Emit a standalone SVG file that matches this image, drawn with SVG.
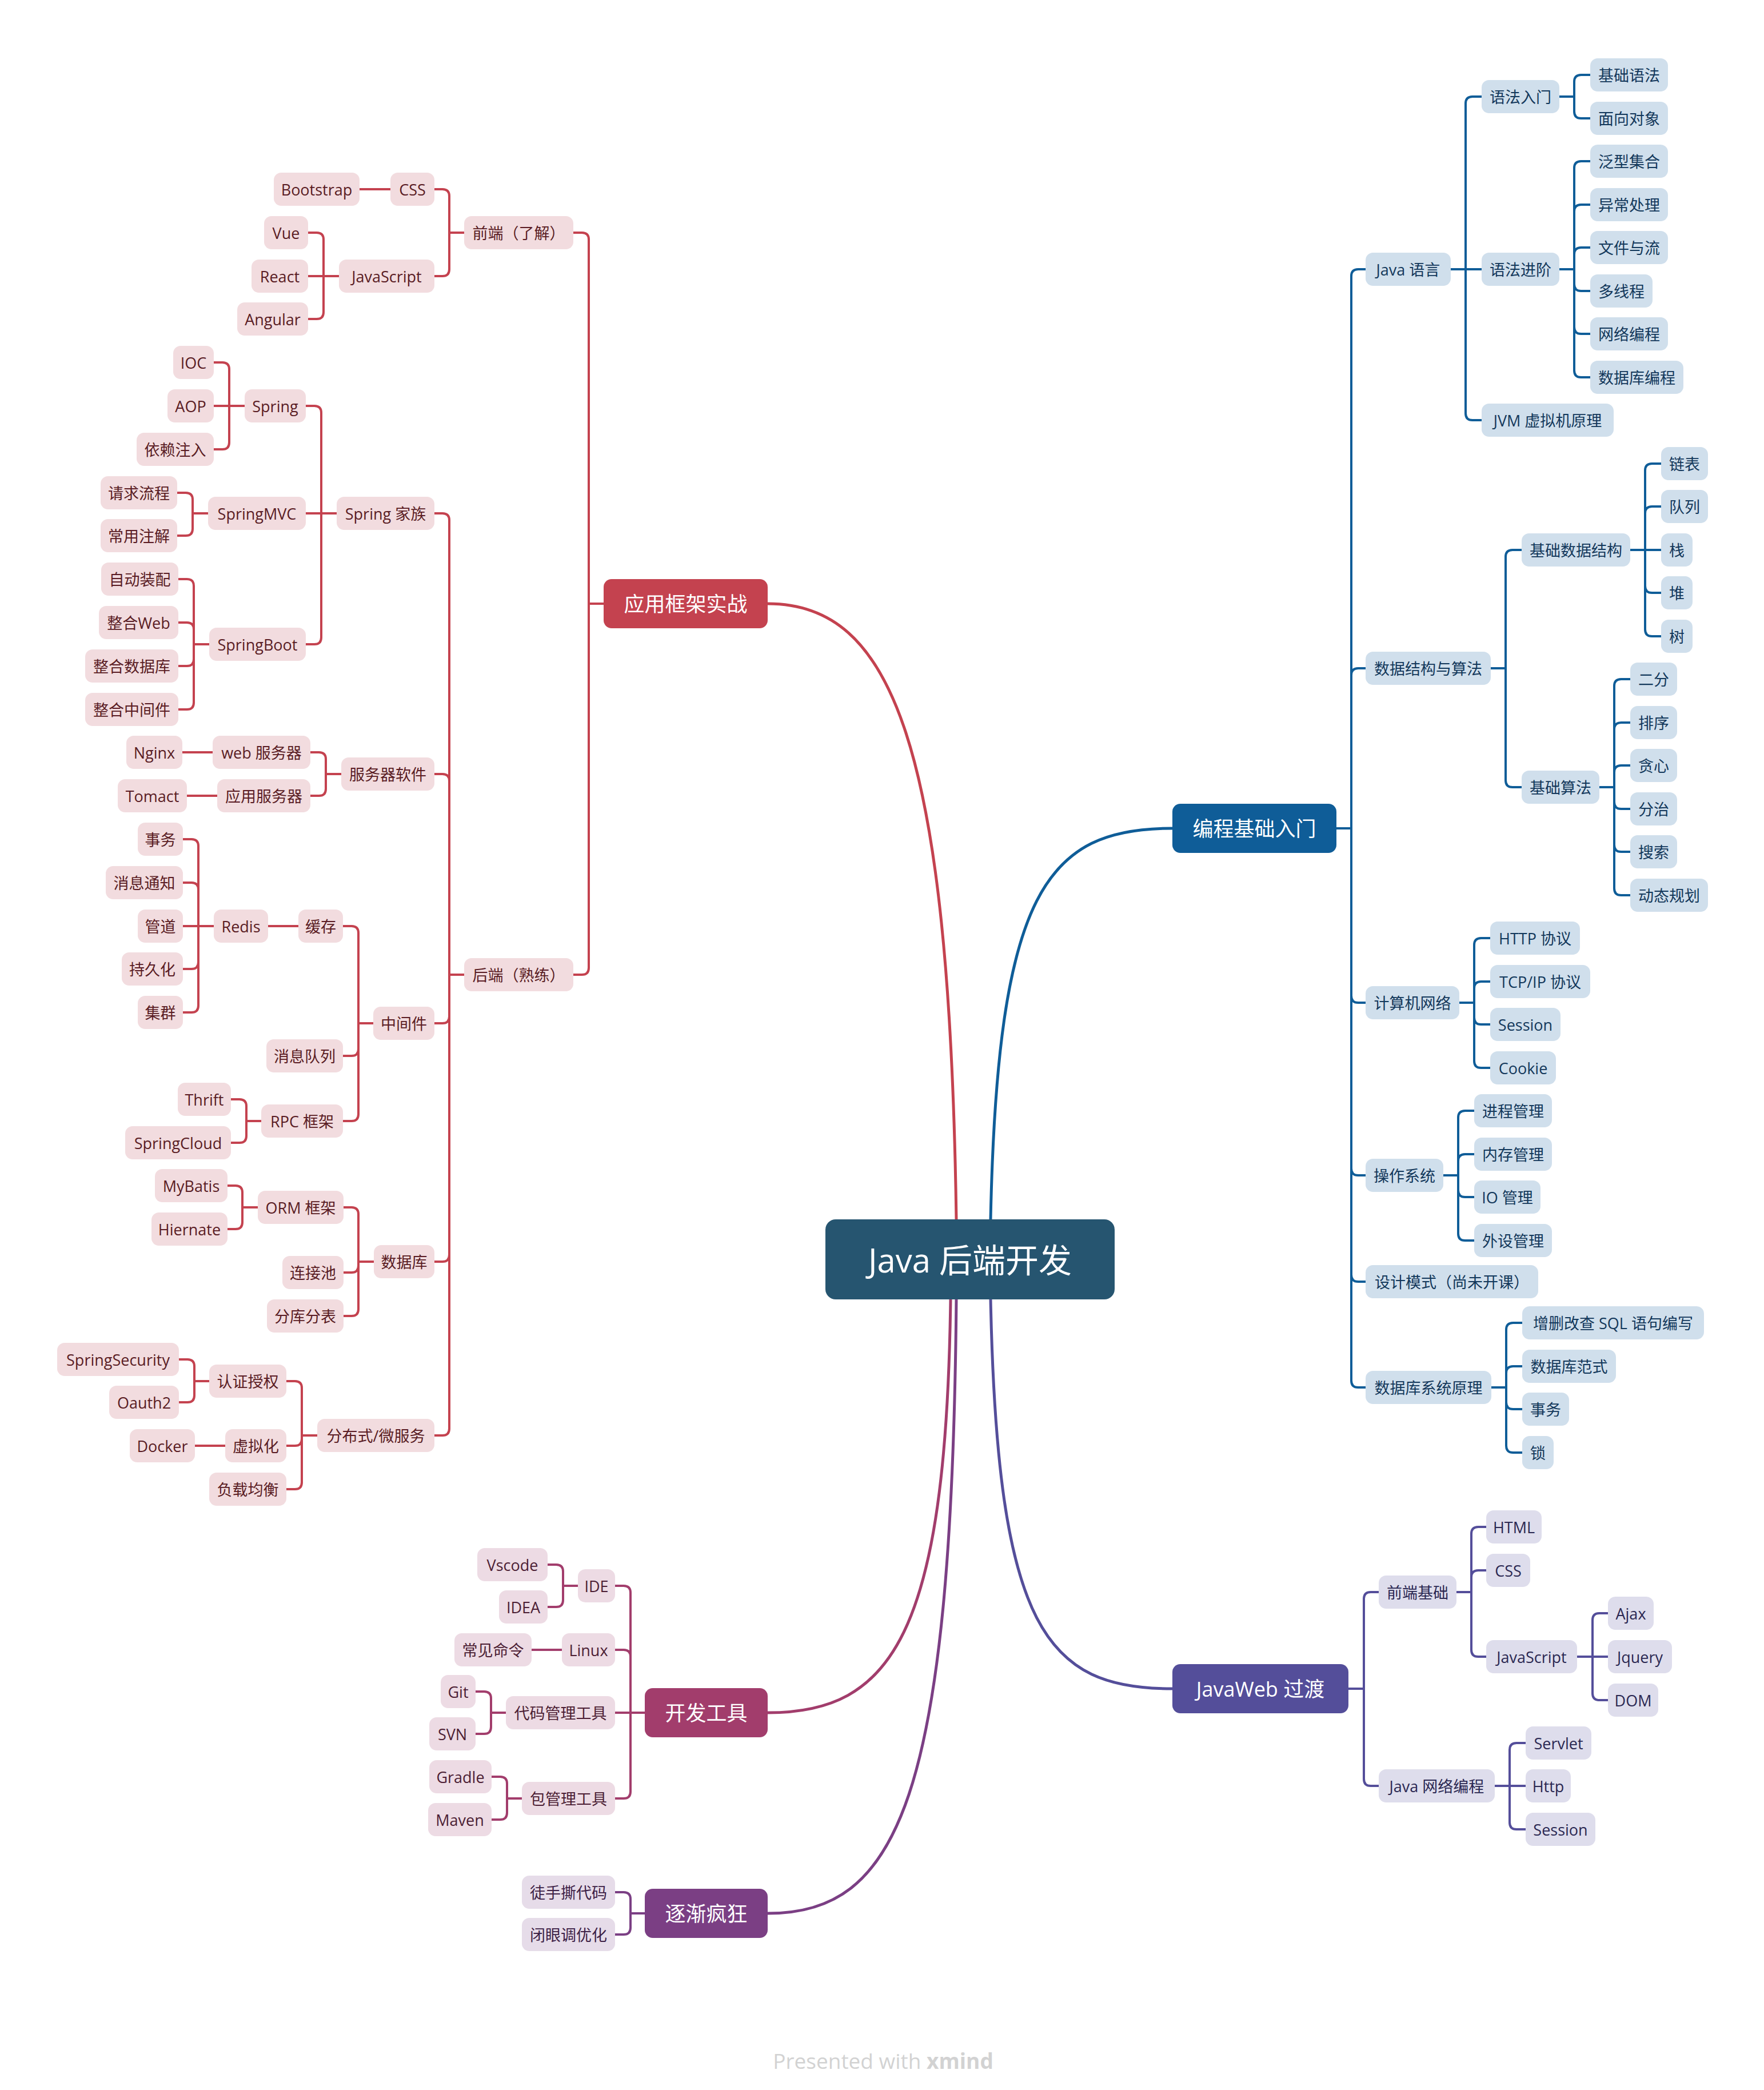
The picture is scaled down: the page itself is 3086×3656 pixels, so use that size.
<svg xmlns="http://www.w3.org/2000/svg" width="3086" height="3656" viewBox="0 0 3086 3656">
<style>
text{font-family:"Open Sans","Noto Sans CJK SC",sans-serif;dominant-baseline:central;text-anchor:middle;font-size:27px}
.n rect{height:58px;rx:13px}
.r rect{fill:#F2DCDF}.r text{fill:#5A1C24}
.b rect{fill:#D0DFEC}.b text{fill:#13385B}
.w rect{fill:#DEDDEC}.w text{fill:#2B2852}
.d rect{fill:#EDDBE4}.d text{fill:#4C1E34}
.p rect{fill:#E6DCE9}.p text{fill:#3D2146}
.m rect{height:86px;rx:14px}
.m text{fill:#FFFFFF;font-size:36px}
.m.r rect{fill:#C4424F}.m.b rect{fill:#0F5D98}.m.w rect{fill:#544E9A}.m.d rect{fill:#A23D6C}.m.p rect{fill:#7B3F84}
#root rect{fill:#265570}
#root text{fill:#FFFFFF;font-size:58px}
.c path{fill:none;stroke-width:4;stroke-linejoin:round}
.c path.k{stroke-width:5}
.cr{stroke:#C4424F}.cb{stroke:#0F5D98}.cw{stroke:#544E9A}.cd{stroke:#A23D6C}.cp{stroke:#7B3F84}
.ft{font-size:37px;fill:#D2D2D2;dominant-baseline:auto}
</style>
<rect width="3086" height="3656" fill="#FFFFFF"/>
<g id="connectors" class="c">
<g class="cr">
<path class="k" d="M1673 2133C1661 1300 1560 1056 1343 1056"/>
<path d="M1056 1056H1030V419Q1030 407 1018 407H1003"/>
<path d="M1056 1056H1030V1693Q1030 1705 1018 1705H1003"/>
<path d="M812 407H786V343Q786 331 774 331H760"/>
<path d="M812 407H786V471Q786 483 774 483H760"/>
<path d="M683 331H629"/>
<path d="M593 483H566V419Q566 407 554 407H539"/>
<path d="M593 483H539"/>
<path d="M593 483H566V546Q566 558 554 558H539"/>
<path d="M812 1705H786V910Q786 898 774 898H760"/>
<path d="M812 1705H786V1366Q786 1354 774 1354H760"/>
<path d="M812 1705H786V1778Q786 1790 774 1790H760"/>
<path d="M812 1705H786V2195Q786 2207 774 2207H760"/>
<path d="M812 1705H786V2499Q786 2511 774 2511H760"/>
<path d="M589 898H562V722Q562 710 550 710H535"/>
<path d="M589 898H535"/>
<path d="M589 898H562V1115Q562 1127 550 1127H535"/>
<path d="M428 710H401V646Q401 634 389 634H374"/>
<path d="M428 710H374"/>
<path d="M428 710H401V774Q401 786 389 786H374"/>
<path d="M364 898H337V874Q337 862 325 862H310"/>
<path d="M364 898H337V925Q337 937 325 937H310"/>
<path d="M366 1127H339V1025Q339 1013 327 1013H312"/>
<path d="M366 1127H339V1101Q339 1089 327 1089H312"/>
<path d="M366 1127H339V1153Q339 1165 327 1165H312"/>
<path d="M366 1127H339V1229Q339 1241 327 1241H312"/>
<path d="M597 1354H570V1328Q570 1316 558 1316H543"/>
<path d="M597 1354H570V1380Q570 1392 558 1392H543"/>
<path d="M372 1316H319"/>
<path d="M380 1392H327"/>
<path d="M653 1790H627V1632Q627 1620 615 1620H600"/>
<path d="M653 1790H627V1835Q627 1847 615 1847H600"/>
<path d="M653 1790H627V1949Q627 1961 615 1961H600"/>
<path d="M522 1620H469"/>
<path d="M374 1620H347V1480Q347 1468 335 1468H320"/>
<path d="M374 1620H347V1556Q347 1544 335 1544H320"/>
<path d="M374 1620H320"/>
<path d="M374 1620H347V1683Q347 1695 335 1695H320"/>
<path d="M374 1620H347V1759Q347 1771 335 1771H320"/>
<path d="M457 1961H431V1935Q431 1923 419 1923H404"/>
<path d="M457 1961H431V1987Q431 1999 419 1999H404"/>
<path d="M654 2207H627V2124Q627 2112 615 2112H601"/>
<path d="M654 2207H627V2214Q627 2226 615 2226H601"/>
<path d="M654 2207H627V2290Q627 2302 615 2302H601"/>
<path d="M451 2112H424V2086Q424 2074 412 2074H398"/>
<path d="M451 2112H424V2138Q424 2150 412 2150H398"/>
<path d="M555 2511H528V2428Q528 2416 516 2416H501"/>
<path d="M555 2511H528V2517Q528 2529 516 2529H501"/>
<path d="M555 2511H528V2593Q528 2605 516 2605H501"/>
<path d="M366 2416H340V2390Q340 2378 328 2378H313"/>
<path d="M366 2416H340V2441Q340 2453 328 2453H313"/>
<path d="M394 2529H341"/>
</g>
<g class="cb">
<path class="k" d="M1733 2133C1745 1560 1830 1449 2051 1449"/>
<path d="M2338 1449H2364V483Q2364 471 2376 471H2389"/>
<path d="M2338 1449H2364V1181Q2364 1169 2376 1169H2389"/>
<path d="M2338 1449H2364V1742Q2364 1754 2376 1754H2389"/>
<path d="M2338 1449H2364V2044Q2364 2056 2376 2056H2389"/>
<path d="M2338 1449H2364V2230Q2364 2242 2376 2242H2389"/>
<path d="M2338 1449H2364V2415Q2364 2427 2376 2427H2389"/>
<path d="M2538 471H2564V181Q2564 169 2576 169H2592"/>
<path d="M2538 471H2592"/>
<path d="M2538 471H2564V723Q2564 735 2576 735H2592"/>
<path d="M2728 169H2754V143Q2754 131 2766 131H2782"/>
<path d="M2728 169H2754V195Q2754 207 2766 207H2782"/>
<path d="M2728 471H2754V294Q2754 282 2766 282H2782"/>
<path d="M2728 471H2754V370Q2754 358 2766 358H2782"/>
<path d="M2728 471H2754V445Q2754 433 2766 433H2782"/>
<path d="M2728 471H2754V497Q2754 509 2766 509H2782"/>
<path d="M2728 471H2754V572Q2754 584 2766 584H2782"/>
<path d="M2728 471H2754V648Q2754 660 2766 660H2782"/>
<path d="M2608 1169H2634V974Q2634 962 2646 962H2662"/>
<path d="M2608 1169H2634V1365Q2634 1377 2646 1377H2662"/>
<path d="M2852 962H2878V823Q2878 811 2890 811H2906"/>
<path d="M2852 962H2878V898Q2878 886 2890 886H2906"/>
<path d="M2852 962H2906"/>
<path d="M2852 962H2878V1025Q2878 1037 2890 1037H2906"/>
<path d="M2852 962H2878V1101Q2878 1113 2890 1113H2906"/>
<path d="M2798 1377H2824V1200Q2824 1188 2836 1188H2852"/>
<path d="M2798 1377H2824V1276Q2824 1264 2836 1264H2852"/>
<path d="M2798 1377H2824V1351Q2824 1339 2836 1339H2852"/>
<path d="M2798 1377H2824V1403Q2824 1415 2836 1415H2852"/>
<path d="M2798 1377H2824V1478Q2824 1490 2836 1490H2852"/>
<path d="M2798 1377H2824V1554Q2824 1566 2836 1566H2852"/>
<path d="M2553 1754H2579V1653Q2579 1641 2591 1641H2607"/>
<path d="M2553 1754H2579V1729Q2579 1717 2591 1717H2607"/>
<path d="M2553 1754H2579V1780Q2579 1792 2591 1792H2607"/>
<path d="M2553 1754H2579V1856Q2579 1868 2591 1868H2607"/>
<path d="M2525 2056H2551V1955Q2551 1943 2563 1943H2579"/>
<path d="M2525 2056H2551V2031Q2551 2019 2563 2019H2579"/>
<path d="M2525 2056H2551V2082Q2551 2094 2563 2094H2579"/>
<path d="M2525 2056H2551V2158Q2551 2170 2563 2170H2579"/>
<path d="M2609 2427H2635V2326Q2635 2314 2647 2314H2663"/>
<path d="M2609 2427H2635V2402Q2635 2390 2647 2390H2663"/>
<path d="M2609 2427H2635V2453Q2635 2465 2647 2465H2663"/>
<path d="M2609 2427H2635V2529Q2635 2541 2647 2541H2663"/>
</g>
<g class="cw">
<path class="k" d="M1733 2273C1745 2850 1830 2954 2051 2954"/>
<path d="M2359 2954H2386V2797Q2386 2785 2398 2785H2412"/>
<path d="M2359 2954H2386V3112Q2386 3124 2398 3124H2412"/>
<path d="M2548 2785H2574V2683Q2574 2671 2586 2671H2600"/>
<path d="M2548 2785H2574V2759Q2574 2747 2586 2747H2600"/>
<path d="M2548 2785H2574V2886Q2574 2898 2586 2898H2600"/>
<path d="M2759 2898H2786V2834Q2786 2822 2798 2822H2813"/>
<path d="M2759 2898H2813"/>
<path d="M2759 2898H2786V2962Q2786 2974 2798 2974H2813"/>
<path d="M2615 3124H2641V3061Q2641 3049 2653 3049H2669"/>
<path d="M2615 3124H2669"/>
<path d="M2615 3124H2641V3188Q2641 3200 2653 3200H2669"/>
</g>
<g class="cd">
<path class="k" d="M1663 2273C1655 2860 1560 2996 1343 2996"/>
<path d="M1128 2996H1103V2786Q1103 2774 1091 2774H1076"/>
<path d="M1128 2996H1103V2898Q1103 2886 1091 2886H1076"/>
<path d="M1128 2996H1076"/>
<path d="M1128 2996H1103V3134Q1103 3146 1091 3146H1076"/>
<path d="M1011 2774H985V2749Q985 2737 973 2737H958"/>
<path d="M1011 2774H985V2799Q985 2811 973 2811H958"/>
<path d="M983 2886H930"/>
<path d="M885 2996H859V2971Q859 2959 847 2959H832"/>
<path d="M885 2996H859V3021Q859 3033 847 3033H832"/>
<path d="M913 3146H887V3120Q887 3108 875 3108H860"/>
<path d="M913 3146H887V3171Q887 3183 875 3183H860"/>
</g>
<g class="cp">
<path class="k" d="M1673 2273C1665 3150 1570 3347 1343 3347"/>
<path d="M1128 3347H1103V3322Q1103 3310 1091 3310H1076"/>
<path d="M1128 3347H1103V3372Q1103 3384 1091 3384H1076"/>
</g>
</g>

<g id="root"><rect x="1444" y="2133" width="506" height="140" rx="18"/><text x="1697" y="2203">Java 后端开发</text></g>

<g id="b-main" class="m b"><rect x="2051" y="1406" width="287"/><text x="2194.5" y="1449">编程基础入门</text></g>
<g id="b-java" class="n b"><rect x="2389" y="442" width="149"/><text x="2463.5" y="471">Java 语言</text></g>
<g id="b-yfrm" class="n b"><rect x="2592" y="140" width="136"/><text x="2660" y="169">语法入门</text></g>
<g id="b-jcyf" class="n b"><rect x="2782" y="102" width="136"/><text x="2850" y="131">基础语法</text></g>
<g id="b-mxdx" class="n b"><rect x="2782" y="178" width="136"/><text x="2850" y="207">面向对象</text></g>
<g id="b-yfjj" class="n b"><rect x="2592" y="442" width="136"/><text x="2660" y="471">语法进阶</text></g>
<g id="b-fxjh" class="n b"><rect x="2782" y="253" width="136"/><text x="2850" y="282">泛型集合</text></g>
<g id="b-yccl" class="n b"><rect x="2782" y="329" width="136"/><text x="2850" y="358">异常处理</text></g>
<g id="b-wjyl" class="n b"><rect x="2782" y="404" width="136"/><text x="2850" y="433">文件与流</text></g>
<g id="b-dxc" class="n b"><rect x="2782" y="480" width="109"/><text x="2836.5" y="509">多线程</text></g>
<g id="b-wlbc" class="n b"><rect x="2782" y="555" width="136"/><text x="2850" y="584">网络编程</text></g>
<g id="b-sjkbc" class="n b"><rect x="2782" y="631" width="163"/><text x="2863.5" y="660">数据库编程</text></g>
<g id="b-jvm" class="n b"><rect x="2592" y="706" width="231"/><text x="2707.5" y="735">JVM 虚拟机原理</text></g>
<g id="b-sjjg" class="n b"><rect x="2389" y="1140" width="219"/><text x="2498.5" y="1169">数据结构与算法</text></g>
<g id="b-jcsjjg" class="n b"><rect x="2662" y="933" width="190"/><text x="2757" y="962">基础数据结构</text></g>
<g id="b-lb" class="n b"><rect x="2906" y="782" width="82"/><text x="2947" y="811">链表</text></g>
<g id="b-dl" class="n b"><rect x="2906" y="857" width="82"/><text x="2947" y="886">队列</text></g>
<g id="b-z" class="n b"><rect x="2906" y="933" width="55"/><text x="2933.5" y="962">栈</text></g>
<g id="b-d" class="n b"><rect x="2906" y="1008" width="55"/><text x="2933.5" y="1037">堆</text></g>
<g id="b-s" class="n b"><rect x="2906" y="1084" width="55"/><text x="2933.5" y="1113">树</text></g>
<g id="b-jcsf" class="n b"><rect x="2662" y="1348" width="136"/><text x="2730" y="1377">基础算法</text></g>
<g id="b-ef" class="n b"><rect x="2852" y="1159" width="82"/><text x="2893" y="1188">二分</text></g>
<g id="b-px" class="n b"><rect x="2852" y="1235" width="82"/><text x="2893" y="1264">排序</text></g>
<g id="b-tx" class="n b"><rect x="2852" y="1310" width="82"/><text x="2893" y="1339">贪心</text></g>
<g id="b-fz" class="n b"><rect x="2852" y="1386" width="82"/><text x="2893" y="1415">分治</text></g>
<g id="b-ss" class="n b"><rect x="2852" y="1461" width="82"/><text x="2893" y="1490">搜索</text></g>
<g id="b-dtgh" class="n b"><rect x="2852" y="1537" width="136"/><text x="2920" y="1566">动态规划</text></g>
<g id="b-jswl" class="n b"><rect x="2389" y="1725" width="164"/><text x="2471" y="1754">计算机网络</text></g>
<g id="b-http" class="n b"><rect x="2607" y="1612" width="157"/><text x="2685.5" y="1641">HTTP 协议</text></g>
<g id="b-tcp" class="n b"><rect x="2607" y="1688" width="175"/><text x="2694.5" y="1717">TCP/IP 协议</text></g>
<g id="b-session" class="n b"><rect x="2607" y="1763" width="123"/><text x="2668.5" y="1792">Session</text></g>
<g id="b-cookie" class="n b"><rect x="2607" y="1839" width="115"/><text x="2664.5" y="1868">Cookie</text></g>
<g id="b-czxt" class="n b"><rect x="2389" y="2027" width="136"/><text x="2457" y="2056">操作系统</text></g>
<g id="b-jcgl" class="n b"><rect x="2579" y="1914" width="136"/><text x="2647" y="1943">进程管理</text></g>
<g id="b-ncgl" class="n b"><rect x="2579" y="1990" width="136"/><text x="2647" y="2019">内存管理</text></g>
<g id="b-io" class="n b"><rect x="2579" y="2065" width="116"/><text x="2637" y="2094">IO 管理</text></g>
<g id="b-wsgl" class="n b"><rect x="2579" y="2141" width="136"/><text x="2647" y="2170">外设管理</text></g>
<g id="b-sjms" class="n b"><rect x="2389" y="2213" width="302"/><text x="2540" y="2242">设计模式（尚未开课）</text></g>
<g id="b-sjkxt" class="n b"><rect x="2389" y="2398" width="220"/><text x="2499" y="2427">数据库系统原理</text></g>
<g id="b-sql" class="n b"><rect x="2663" y="2285" width="318"/><text x="2822" y="2314">增删改查 SQL 语句编写</text></g>
<g id="b-fs" class="n b"><rect x="2663" y="2361" width="164"/><text x="2745" y="2390">数据库范式</text></g>
<g id="b-sw" class="n b"><rect x="2663" y="2436" width="82"/><text x="2704" y="2465">事务</text></g>
<g id="b-suo" class="n b"><rect x="2663" y="2512" width="55"/><text x="2690.5" y="2541">锁</text></g>

<g id="w-main" class="m w"><rect x="2051" y="2911" width="308"/><text x="2205" y="2954">JavaWeb 过渡</text></g>
<g id="w-qdjc" class="n w"><rect x="2412" y="2756" width="136"/><text x="2480" y="2785">前端基础</text></g>
<g id="w-html" class="n w"><rect x="2600" y="2642" width="97"/><text x="2648.5" y="2671">HTML</text></g>
<g id="w-css" class="n w"><rect x="2600" y="2718" width="77"/><text x="2638.5" y="2747">CSS</text></g>
<g id="w-js" class="n w"><rect x="2600" y="2869" width="159"/><text x="2679.5" y="2898">JavaScript</text></g>
<g id="w-ajax" class="n w"><rect x="2813" y="2793" width="80"/><text x="2853" y="2822">Ajax</text></g>
<g id="w-jquery" class="n w"><rect x="2813" y="2869" width="112"/><text x="2869" y="2898">Jquery</text></g>
<g id="w-dom" class="n w"><rect x="2813" y="2945" width="88"/><text x="2857" y="2974">DOM</text></g>
<g id="w-wlbc" class="n w"><rect x="2412" y="3095" width="203"/><text x="2513.5" y="3124">Java 网络编程</text></g>
<g id="w-servlet" class="n w"><rect x="2669" y="3020" width="115"/><text x="2726.5" y="3049">Servlet</text></g>
<g id="w-http" class="n w"><rect x="2669" y="3095" width="79"/><text x="2708.5" y="3124">Http</text></g>
<g id="w-session" class="n w"><rect x="2669" y="3171" width="122"/><text x="2730" y="3200">Session</text></g>

<g id="r-main" class="m r"><rect x="1056" y="1013" width="287"/><text x="1199.5" y="1056">应用框架实战</text></g>
<g id="r-qd" class="n r"><rect x="812" y="378" width="191"/><text x="907.5" y="407">前端（了解）</text></g>
<g id="r-css" class="n r"><rect x="683" y="302" width="77"/><text x="721.5" y="331">CSS</text></g>
<g id="r-bootstrap" class="n r"><rect x="479" y="302" width="150"/><text x="554" y="331">Bootstrap</text></g>
<g id="r-js" class="n r"><rect x="593" y="454" width="167"/><text x="676.5" y="483">JavaScript</text></g>
<g id="r-vue" class="n r"><rect x="462" y="378" width="77"/><text x="500.5" y="407">Vue</text></g>
<g id="r-react" class="n r"><rect x="440" y="454" width="99"/><text x="489.5" y="483">React</text></g>
<g id="r-angular" class="n r"><rect x="415" y="529" width="124"/><text x="477" y="558">Angular</text></g>
<g id="r-hd" class="n r"><rect x="812" y="1676" width="191"/><text x="907.5" y="1705">后端（熟练）</text></g>
<g id="r-springjz" class="n r"><rect x="589" y="869" width="171"/><text x="674.5" y="898">Spring 家族</text></g>
<g id="r-spring" class="n r"><rect x="428" y="681" width="107"/><text x="481.5" y="710">Spring</text></g>
<g id="r-ioc" class="n r"><rect x="303" y="605" width="71"/><text x="338.5" y="634">IOC</text></g>
<g id="r-aop" class="n r"><rect x="293" y="681" width="81"/><text x="333.5" y="710">AOP</text></g>
<g id="r-ylzr" class="n r"><rect x="239" y="757" width="135"/><text x="306.5" y="786">依赖注入</text></g>
<g id="r-springmvc" class="n r"><rect x="364" y="869" width="171"/><text x="449.5" y="898">SpringMVC</text></g>
<g id="r-qqlc" class="n r"><rect x="176" y="833" width="134"/><text x="243" y="862">请求流程</text></g>
<g id="r-cyzj" class="n r"><rect x="176" y="908" width="134"/><text x="243" y="937">常用注解</text></g>
<g id="r-springboot" class="n r"><rect x="366" y="1098" width="169"/><text x="450.5" y="1127">SpringBoot</text></g>
<g id="r-zdzp" class="n r"><rect x="177" y="984" width="135"/><text x="244.5" y="1013">自动装配</text></g>
<g id="r-zhweb" class="n r"><rect x="173" y="1060" width="139"/><text x="242.5" y="1089">整合Web</text></g>
<g id="r-zhsjk" class="n r"><rect x="149" y="1136" width="163"/><text x="230.5" y="1165">整合数据库</text></g>
<g id="r-zhzjj" class="n r"><rect x="149" y="1212" width="163"/><text x="230.5" y="1241">整合中间件</text></g>
<g id="r-fwqrj" class="n r"><rect x="597" y="1325" width="163"/><text x="678.5" y="1354">服务器软件</text></g>
<g id="r-webfwq" class="n r"><rect x="372" y="1287" width="171"/><text x="457.5" y="1316">web 服务器</text></g>
<g id="r-nginx" class="n r"><rect x="221" y="1287" width="98"/><text x="270" y="1316">Nginx</text></g>
<g id="r-yyfwq" class="n r"><rect x="380" y="1363" width="163"/><text x="461.5" y="1392">应用服务器</text></g>
<g id="r-tomact" class="n r"><rect x="206" y="1363" width="121"/><text x="266.5" y="1392">Tomact</text></g>
<g id="r-zjj" class="n r"><rect x="653" y="1761" width="107"/><text x="706.5" y="1790">中间件</text></g>
<g id="r-hc" class="n r"><rect x="522" y="1591" width="78"/><text x="561" y="1620">缓存</text></g>
<g id="r-redis" class="n r"><rect x="374" y="1591" width="95"/><text x="421.5" y="1620">Redis</text></g>
<g id="r-sw" class="n r"><rect x="241" y="1439" width="79"/><text x="280.5" y="1468">事务</text></g>
<g id="r-xxtz" class="n r"><rect x="185" y="1515" width="135"/><text x="252.5" y="1544">消息通知</text></g>
<g id="r-gd" class="n r"><rect x="241" y="1591" width="79"/><text x="280.5" y="1620">管道</text></g>
<g id="r-cjh" class="n r"><rect x="213" y="1666" width="107"/><text x="266.5" y="1695">持久化</text></g>
<g id="r-jq" class="n r"><rect x="241" y="1742" width="79"/><text x="280.5" y="1771">集群</text></g>
<g id="r-xxdl" class="n r"><rect x="466" y="1818" width="134"/><text x="533" y="1847">消息队列</text></g>
<g id="r-rpc" class="n r"><rect x="457" y="1932" width="143"/><text x="528.5" y="1961">RPC 框架</text></g>
<g id="r-thrift" class="n r"><rect x="311" y="1894" width="93"/><text x="357.5" y="1923">Thrift</text></g>
<g id="r-springcloud" class="n r"><rect x="219" y="1970" width="185"/><text x="311.5" y="1999">SpringCloud</text></g>
<g id="r-sjk" class="n r"><rect x="654" y="2178" width="106"/><text x="707" y="2207">数据库</text></g>
<g id="r-orm" class="n r"><rect x="451" y="2083" width="150"/><text x="526" y="2112">ORM 框架</text></g>
<g id="r-mybatis" class="n r"><rect x="271" y="2045" width="127"/><text x="334.5" y="2074">MyBatis</text></g>
<g id="r-hiernate" class="n r"><rect x="265" y="2121" width="133"/><text x="331.5" y="2150">Hiernate</text></g>
<g id="r-ljc" class="n r"><rect x="494" y="2197" width="107"/><text x="547.5" y="2226">连接池</text></g>
<g id="r-fkfb" class="n r"><rect x="467" y="2273" width="134"/><text x="534" y="2302">分库分表</text></g>
<g id="r-fbs" class="n r"><rect x="555" y="2482" width="205"/><text x="657.5" y="2511">分布式/微服务</text></g>
<g id="r-rzsq" class="n r"><rect x="366" y="2387" width="135"/><text x="433.5" y="2416">认证授权</text></g>
<g id="r-springsecurity" class="n r"><rect x="100" y="2349" width="213"/><text x="206.5" y="2378">SpringSecurity</text></g>
<g id="r-oauth2" class="n r"><rect x="191" y="2424" width="122"/><text x="252" y="2453">Oauth2</text></g>
<g id="r-xnh" class="n r"><rect x="394" y="2500" width="107"/><text x="447.5" y="2529">虚拟化</text></g>
<g id="r-docker" class="n r"><rect x="227" y="2500" width="114"/><text x="284" y="2529">Docker</text></g>
<g id="r-fzjh" class="n r"><rect x="366" y="2576" width="135"/><text x="433.5" y="2605">负载均衡</text></g>

<g id="d-main" class="m d"><rect x="1128" y="2953" width="215"/><text x="1235.5" y="2996">开发工具</text></g>
<g id="d-ide" class="n d"><rect x="1011" y="2745" width="65"/><text x="1043.5" y="2774">IDE</text></g>
<g id="d-vscode" class="n d"><rect x="835" y="2708" width="123"/><text x="896.5" y="2737">Vscode</text></g>
<g id="d-idea" class="n d"><rect x="873" y="2782" width="85"/><text x="915.5" y="2811">IDEA</text></g>
<g id="d-linux" class="n d"><rect x="983" y="2857" width="93"/><text x="1029.5" y="2886">Linux</text></g>
<g id="d-cjml" class="n d"><rect x="795" y="2857" width="135"/><text x="862.5" y="2886">常见命令</text></g>
<g id="d-dmgl" class="n d"><rect x="885" y="2967" width="191"/><text x="980.5" y="2996">代码管理工具</text></g>
<g id="d-git" class="n d"><rect x="771" y="2930" width="61"/><text x="801.5" y="2959">Git</text></g>
<g id="d-svn" class="n d"><rect x="751" y="3004" width="81"/><text x="791.5" y="3033">SVN</text></g>
<g id="d-bgl" class="n d"><rect x="913" y="3117" width="163"/><text x="994.5" y="3146">包管理工具</text></g>
<g id="d-gradle" class="n d"><rect x="751" y="3079" width="109"/><text x="805.5" y="3108">Gradle</text></g>
<g id="d-maven" class="n d"><rect x="749" y="3154" width="111"/><text x="804.5" y="3183">Maven</text></g>

<g id="p-main" class="m p"><rect x="1128" y="3304" width="215"/><text x="1235.5" y="3347">逐渐疯狂</text></g>
<g id="p-tssdm" class="n p"><rect x="913" y="3281" width="163"/><text x="994.5" y="3310">徒手撕代码</text></g>
<g id="p-bytyh" class="n p"><rect x="913" y="3355" width="163"/><text x="994.5" y="3384">闭眼调优化</text></g>

<text class="ft" x="1545" y="3619">Presented with <tspan font-weight="700">xmind</tspan></text>
</svg>
